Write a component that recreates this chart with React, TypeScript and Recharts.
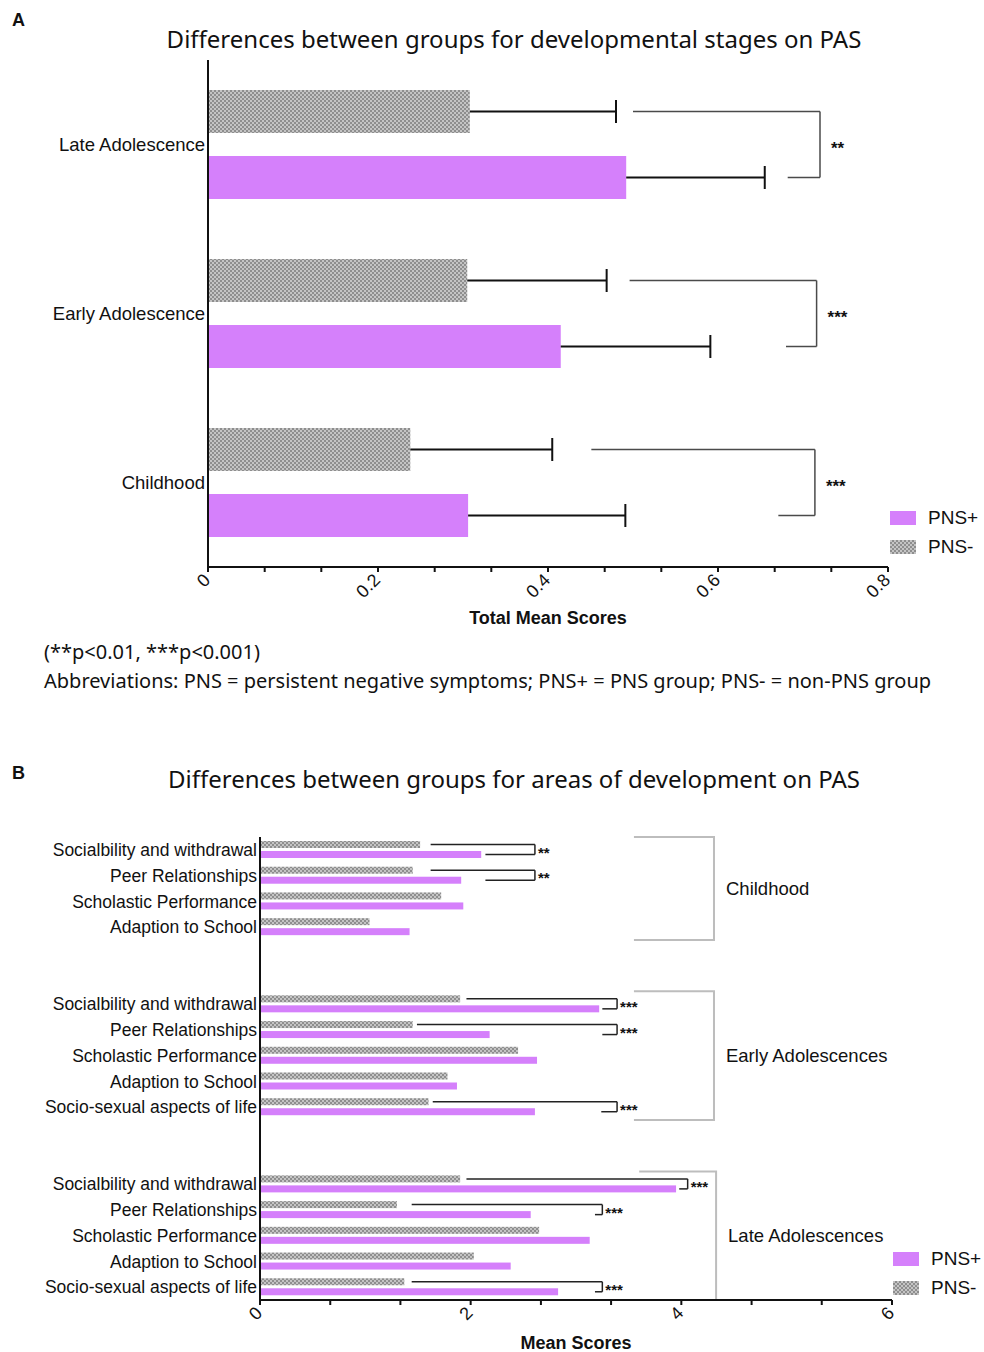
import React from "react";
import { Bar, BarChart, ReferenceArea, XAxis, YAxis } from "recharts";

const PURPLE = "#d580fb";
const INK = "#111";
const ARIAL = "'Liberation Sans', Arial, sans-serif";
const BODY = "'Noto Sans', sans-serif";

// ---- Panel A: developmental stages ----
const stageLabels = ["Late Adolescence", "Early Adolescence", "Childhood"];
const stageMinus = [0.308, 0.305, 0.238];
const stagePlus = [0.492, 0.415, 0.306];
const stageMinusErr = [0.172, 0.164, 0.167];
const stagePlusErr = [0.163, 0.176, 0.185];
const stageStars = ["**", "***", "***"];
const stageBracket = [0.72, 0.716, 0.714];
const stageFromMinus = [0.5, 0.496, 0.451];
const stageFromPlus = [0.682, 0.68, 0.671];
const ticksA = [0, 0.0667, 0.1333, 0.2, 0.2667, 0.3333, 0.4, 0.4667, 0.5333, 0.6, 0.6667, 0.7333, 0.8];
const majorA = [0, 0.2, 0.4, 0.6, 0.8];

// ---- Panel B: areas of development (blank rows separate the stages) ----
const areaLabels = [
  "Socialbility and withdrawal", "Peer Relationships", "Scholastic Performance ", "Adaption to School",
  "", "",
  "Socialbility and withdrawal", "Peer Relationships", "Scholastic Performance ", "Adaption to School", "Socio-sexual aspects of life",
  "", "",
  "Socialbility and withdrawal", "Peer Relationships", "Scholastic Performance ", "Adaption to School", "Socio-sexual aspects of life",
];
const areaMinus = [1.52, 1.45, 1.72, 1.04, null, null, 1.9, 1.45, 2.45, 1.78, 1.6, null, null, 1.9, 1.3, 2.65, 2.03, 1.37];
const areaPlus = [2.1, 1.91, 1.93, 1.42, null, null, 3.22, 2.18, 2.63, 1.87, 2.61, null, null, 3.95, 2.57, 3.13, 2.38, 2.83];
const areaStars = ["**", "**", "", "", "", "", "***", "***", "", "", "***", "", "", "***", "***", "", "", "***"];
const areaBracket = [2.61, 2.61, null, null, null, null, 3.39, 3.39, null, null, 3.39, null, null, 4.06, 3.25, null, null, 3.25];
const areaFromMinus = [1.62, 1.62, null, null, null, null, 1.96, 1.49, null, null, 1.64, null, null, 1.96, 1.44, null, null, 1.44];
const areaFromPlus = [2.14, 2.14, null, null, null, null, 3.25, 3.25, null, null, 3.24, null, null, 3.98, 3.18, null, null, 3.18];
const groupNames = ["Childhood", "Early Adolescences", "Late Adolescences"];
const groupFirst = [0, 6, 13];
const groupLast = [3, 10, 17];
const groupX1 = [3.55, 3.55, 3.6];
const groupX2 = [4.31, 4.31, 4.33];
const ticksB = [0, 0.667, 1.333, 2, 2.667, 3.333, 4, 4.667, 5.333, 6];
const majorB = [0, 2, 4, 6];

const legendLabels = ["PNS+", "PNS-"];

const stageRows = stageLabels.map((stage, i) => ({
  stage,
  minus: stageMinus[i],
  plus: stagePlus[i],
  minusErr: stageMinusErr[i],
  plusErr: stagePlusErr[i],
  bracket: stageBracket[i],
  fromMinus: stageFromMinus[i],
  fromPlus: stageFromPlus[i],
  stars: stageStars[i],
}));

const areaRows = areaLabels.map((label, i) => ({
  key: `r${i}`,
  label,
  minus: areaMinus[i],
  plus: areaPlus[i],
  bracket: areaBracket[i],
  fromMinus: areaFromMinus[i],
  fromPlus: areaFromPlus[i],
  stars: areaStars[i],
}));
const labelByKey: Record<string, string> = Object.fromEntries(areaRows.map((r) => [r.key, r.label]));

type MarkStyle = { gap: number; cap: number; line: string; lineWidth: number; starSize: number; starDx: number };

// bar rect plus its error bar and significance bracket, placed with the bar's own scale
function makeBarShape(series: "minus" | "plus", st: MarkStyle) {
  return function BarWithMarks(props: any) {
    const { x, y, width, height, fill, payload } = props;
    const v = payload?.[series];
    if (v == null || !(width > 0)) return <g />;
    const k = width / v;
    const px = (val: number) => x + val * k;
    const cy = y + height / 2;
    const err = payload[series + "Err"];
    const from = payload[series === "minus" ? "fromMinus" : "fromPlus"];
    const b = payload.bracket;
    const topY = cy - height - st.gap;
    return (
      <g>
        <rect x={x} y={y} width={width} height={height} fill={fill} />
        {err != null && (
          <g stroke={INK} strokeWidth={2}>
            <line x1={px(v)} x2={px(v + err)} y1={cy} y2={cy} />
            <line x1={px(v + err)} x2={px(v + err)} y1={cy - st.cap / 2} y2={cy + st.cap / 2} />
          </g>
        )}
        {b != null && from != null && (
          <line x1={px(from)} x2={px(b)} y1={cy} y2={cy} stroke={st.line} strokeWidth={st.lineWidth} />
        )}
        {series === "plus" && b != null && (
          <g>
            <line x1={px(b)} x2={px(b)} y1={topY} y2={cy} stroke={st.line} strokeWidth={st.lineWidth} />
            <text
              x={px(b) + st.starDx}
              y={(topY + cy) / 2}
              dy={st.starSize * 0.55}
              fontFamily={ARIAL}
              fontWeight="bold"
              fontSize={st.starSize}
              fill={INK}
            >
              {payload.stars}
            </text>
          </g>
        )}
      </g>
    );
  };
}

function SlantTick(props: any) {
  const { x, y, payload, majors, size } = props;
  if (!majors.includes(payload.value)) return <g />;
  const ax = x - 1;
  const ay = y + 3;
  return (
    <text
      x={ax}
      y={ay}
      transform={`rotate(-45 ${ax} ${ay})`}
      textAnchor="end"
      dominantBaseline="central"
      fontFamily={ARIAL}
      fontSize={size}
      fill={INK}
    >
      {String(payload.value)}
    </text>
  );
}

function CheckPattern({ id }: { id: string }) {
  return (
    <defs>
      <pattern id={id} patternUnits="userSpaceOnUse" width={4} height={4}>
        <rect width={4} height={4} fill="#c4c4c4" />
        <rect width={2} height={2} fill="#8e8e8e" />
        <rect x={2} y={2} width={2} height={2} fill="#8e8e8e" />
      </pattern>
    </defs>
  );
}

function BracketShape(props: any) {
  const { x, y, width, height } = props;
  return (
    <path
      d={`M${x},${y} L${x + width},${y} L${x + width},${y + height} L${x},${y + height}`}
      fill="none"
      stroke="#bdbdbd"
      strokeWidth={2}
    />
  );
}

function LegendBox({ left, top, rowGap }: { left: number; top: number; rowGap: number }) {
  const swatches = [
    { background: PURPLE },
    { background: "repeating-conic-gradient(#8e8e8e 0% 25%, #c4c4c4 0% 50%) 0 0 / 4px 4px" },
  ];
  return (
    <div style={{ position: "absolute", left, top, fontFamily: ARIAL, fontSize: 19, color: INK }}>
      {legendLabels.map((name, i) => (
        <div key={name} style={{ position: "absolute", left: 0, top: i * rowGap, width: 80, height: 16 }}>
          <div style={{ position: "absolute", left: 0, top: 0, width: 26, height: 14, ...swatches[i] }} />
          <div style={{ position: "absolute", left: 38, top: -3, lineHeight: "20px", whiteSpace: "nowrap" }}>{name}</div>
        </div>
      ))}
    </div>
  );
}

const text = (left: number, top: number, style: React.CSSProperties, content: string) => (
  <div style={{ position: "absolute", left, top, whiteSpace: "nowrap", lineHeight: 1, color: INK, ...style }}>{content}</div>
);

const styleA: MarkStyle = { gap: 23, cap: 23, line: "#4a4a4a", lineWidth: 1.5, starSize: 17, starDx: 11 };
const styleB: MarkStyle = { gap: 3, cap: 0, line: "#222", lineWidth: 1.5, starSize: 15, starDx: 3 };

export default function App() {
  return (
    <div style={{ position: "absolute", left: 0, top: 0, width: 984, height: 1352, background: "#fff", overflow: "hidden" }}>
      {text(12, 11, { fontFamily: ARIAL, fontWeight: "bold", fontSize: 18 }, "A")}
      <div style={{ position: "absolute", left: 14, top: 27, width: 1000, textAlign: "center", fontFamily: BODY, fontSize: 24, lineHeight: 1, color: INK }}>
        Differences between groups for developmental stages on PAS
      </div>

      <div style={{ position: "absolute", left: 0, top: 0 }}>
        <BarChart
          layout="vertical"
          width={984}
          height={640}
          data={stageRows}
          margin={{ top: 60, right: 96, bottom: 15, left: 0 }}
          barGap={23}
        >
          <CheckPattern id="checkA" />
          <XAxis
            type="number"
            domain={[0, 0.8]}
            ticks={ticksA}
            interval={0}
            height={58}
            tickSize={5}
            tickMargin={2}
            axisLine={{ stroke: INK, strokeWidth: 2 }}
            tickLine={{ stroke: INK, strokeWidth: 2 }}
            tick={<SlantTick majors={majorA} size={18} />}
            label={{ value: "Total Mean Scores", position: "insideBottom", offset: 1, fontFamily: ARIAL, fontWeight: "bold", fontSize: 18, fill: INK }}
          />
          <YAxis
            type="category"
            dataKey="stage"
            width={208}
            tickLine={false}
            tickSize={0}
            tickMargin={3}
            axisLine={{ stroke: INK, strokeWidth: 2 }}
            tick={{ fontFamily: ARIAL, fontSize: 18.5, fill: INK }}
          />
          <Bar dataKey="minus" barSize={43} fill="url(#checkA)" isAnimationActive={false} shape={makeBarShape("minus", styleA)} />
          <Bar dataKey="plus" barSize={43} fill={PURPLE} isAnimationActive={false} shape={makeBarShape("plus", styleA)} />
        </BarChart>
      </div>
      <LegendBox left={890} top={511} rowGap={29} />

      {text(44, 642, { fontFamily: BODY, fontSize: 20 }, "(**p<0.01, ***p<0.001)")}
      {text(44, 671, { fontFamily: BODY, fontSize: 20 }, "Abbreviations: PNS = persistent negative symptoms; PNS+ = PNS group; PNS- = non-PNS group")}

      {text(12, 764, { fontFamily: ARIAL, fontWeight: "bold", fontSize: 18 }, "B")}
      <div style={{ position: "absolute", left: 14, top: 767, width: 1000, textAlign: "center", fontFamily: BODY, fontSize: 24, lineHeight: 1, color: INK }}>
        Differences between groups for areas of development on PAS
      </div>

      <div style={{ position: "absolute", left: 0, top: 740 }}>
        <BarChart
          layout="vertical"
          width={984}
          height={612}
          data={areaRows}
          margin={{ top: 97, right: 92, bottom: 2, left: 0 }}
          barGap={3}
        >
          <CheckPattern id="checkB" />
          <XAxis
            type="number"
            domain={[0, 6]}
            ticks={ticksB}
            interval={0}
            height={50}
            tickSize={5}
            tickMargin={2}
            axisLine={{ stroke: INK, strokeWidth: 2 }}
            tickLine={{ stroke: INK, strokeWidth: 2 }}
            tick={<SlantTick majors={majorB} size={18} />}
            label={{ value: "Mean Scores", position: "insideBottom", offset: 1, fontFamily: ARIAL, fontWeight: "bold", fontSize: 18, fill: INK }}
          />
          <YAxis
            type="category"
            dataKey="key"
            width={260}
            interval={0}
            tickLine={false}
            tickSize={0}
            tickMargin={3}
            axisLine={{ stroke: INK, strokeWidth: 2 }}
            tick={{ fontFamily: ARIAL, fontSize: 17.5, fill: INK }}
            tickFormatter={(k: string) => labelByKey[k]}
          />
          {groupNames.map((name, i) => (
            <ReferenceArea
              key={name}
              x1={groupX1[i]}
              x2={groupX2[i]}
              y1={`r${groupFirst[i]}`}
              y2={`r${groupLast[i]}`}
              shape={<BracketShape />}
              label={{ value: name, position: "right", offset: 12, fontFamily: ARIAL, fontSize: 18.5, fill: INK }}
            />
          ))}
          <Bar dataKey="minus" barSize={7} fill="url(#checkB)" isAnimationActive={false} shape={makeBarShape("minus", styleB)} />
          <Bar dataKey="plus" barSize={7} fill={PURPLE} isAnimationActive={false} shape={makeBarShape("plus", styleB)} />
        </BarChart>
      </div>
      <LegendBox left={893} top={1252} rowGap={29} />
    </div>
  );
}
